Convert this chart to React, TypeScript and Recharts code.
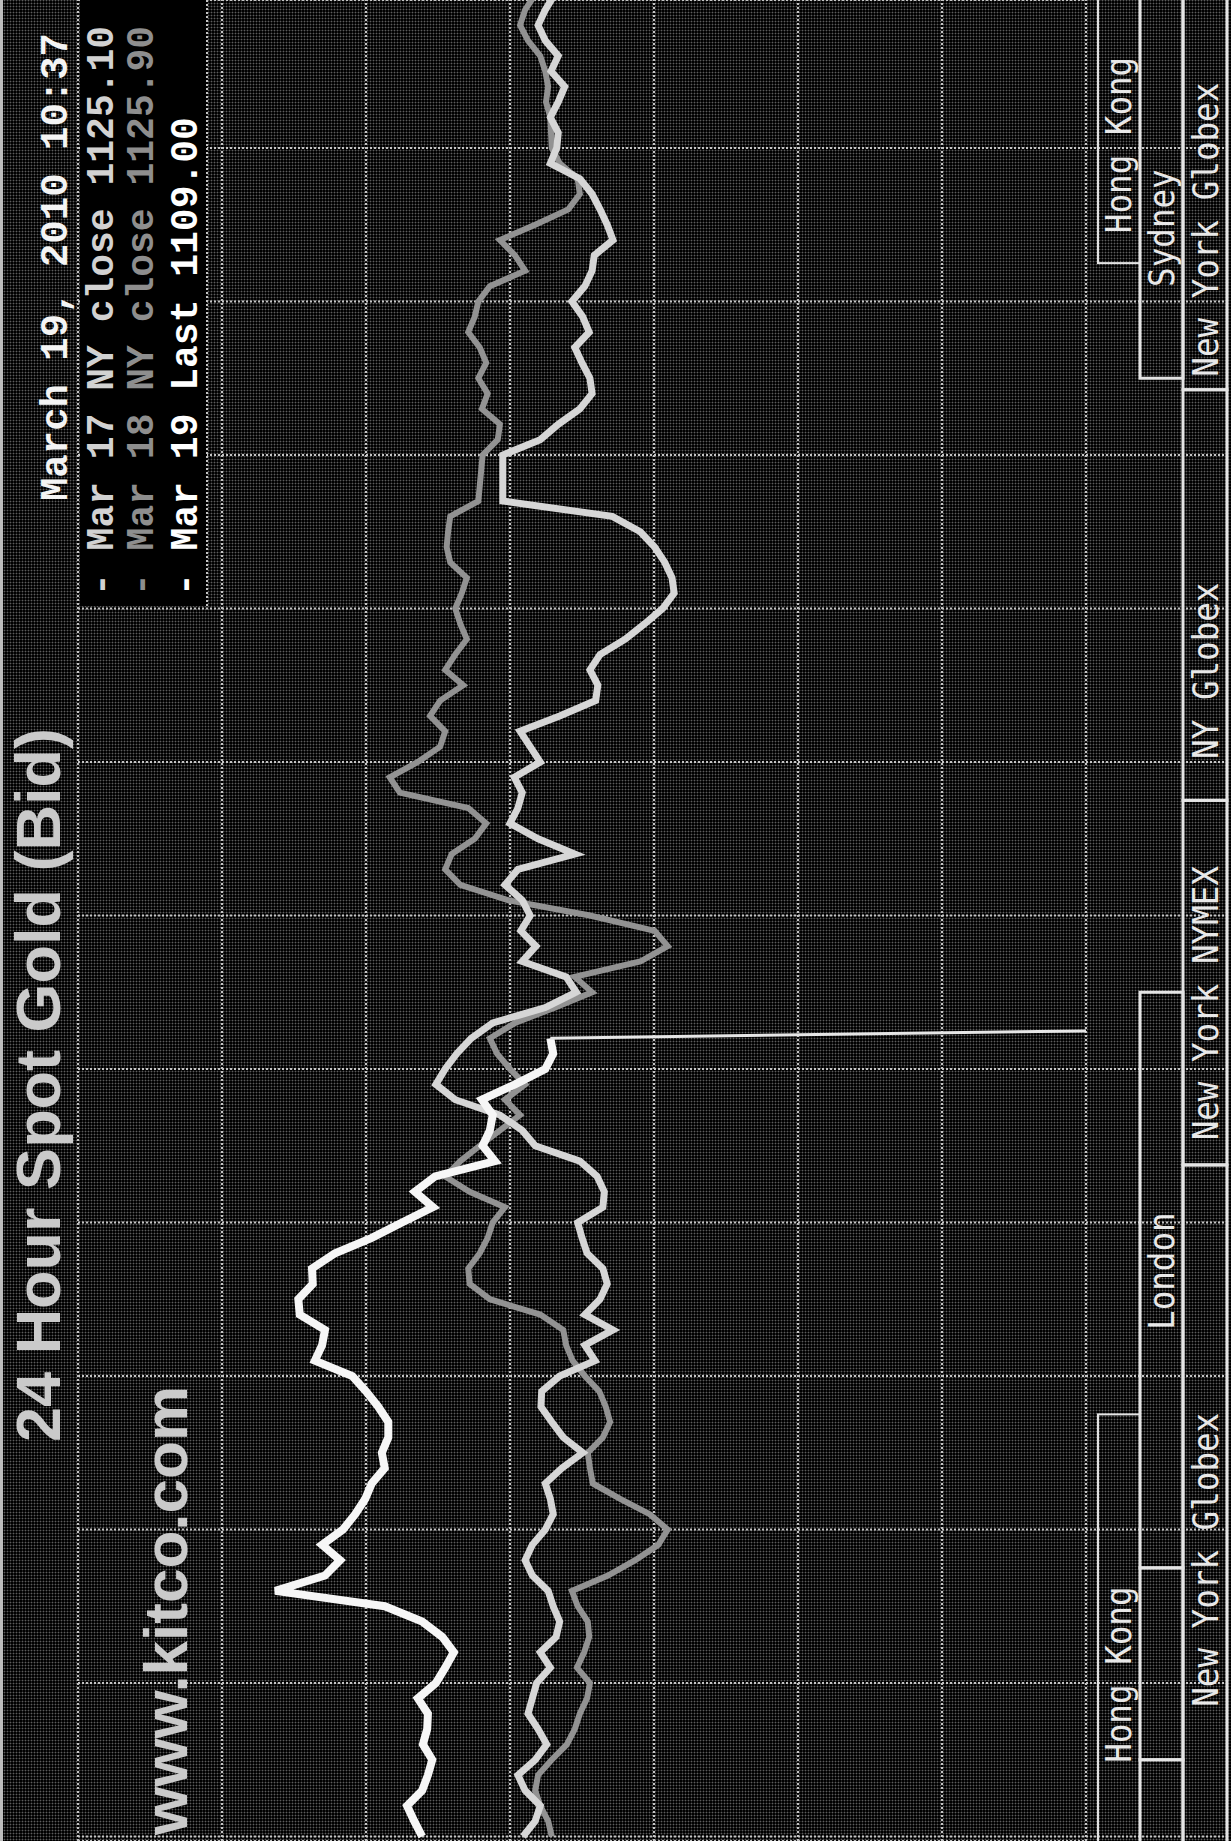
import React from 'react';
import { LineChart, Line, XAxis, YAxis, CartesianGrid } from 'recharts';

// chart is drawn landscape (as kitco publishes it) and turned a quarter turn
const W = 1841;
const H = 1231;
const PLOT_TOP = 78;
const PLOT_BOTTOM = 1086;
const X_MIN = -0.0586; // NY hours at the left edge of the picture
const X_MAX = 23.928;

// NY time in hours, sampled every 12 minutes
const hours = Array.from({ length: 121 }, (_, i) => Math.round(i * 2) / 10);
const hourTicks = [0, 2, 4, 6, 8, 10, 12, 14, 16, 18, 20, 22];
const priceTicks = [1117, 1119, 1121, 1123, 1125, 1127, 1129, 1131];

const mar17 = [
  1124.82, 1124.65, 1124.58, 1124.79, 1124.89, 1124.65, 1124.49, 1124.61, 1124.75, 1124.69,
  1124.63, 1124.44, 1124.58, 1124.36, 1124.31, 1124.4, 1124.47, 1124.69, 1124.79, 1124.69,
  1124.51, 1124.4, 1124.44, 1124.51, 1124.28, 1123.99, 1124.26, 1124.42, 1124.57, 1124.56,
  1124.31, 1123.82, 1123.96, 1123.57, 1123.96, 1123.75, 1123.65, 1123.71, 1123.93, 1124.0,
  1124.06, 1123.71, 1123.69, 1123.79, 1124.03, 1124.65, 1124.83, 1125.14, 1125.76, 1126.03,
  1125.9, 1125.74, 1125.54, 1125.24, 1124.51, 1124.08, 1124.22, 1124.83, 1124.64, 1124.85,
  1124.72, 1124.83, 1125.07, 1124.89, 1124.1, 1124.61, 1125.0, 1124.89, 1124.83, 1124.94,
  1124.58, 1124.72, 1124.86, 1124.31, 1123.81, 1123.78, 1123.89, 1123.75, 1123.4, 1123.13,
  1122.88, 1122.72, 1122.75, 1122.85, 1122.99, 1123.19, 1123.58, 1125.1, 1125.1, 1125.1,
  1125.1, 1124.58, 1124.33, 1124.03, 1123.86, 1123.89, 1124.0, 1124.1, 1123.9, 1123.99,
  1124.14, 1123.96, 1123.86, 1123.83, 1123.57, 1123.65, 1123.75, 1123.86, 1124.03, 1124.44,
  1124.35, 1124.33, 1124.44, 1124.33, 1124.24, 1124.43, 1124.33, 1124.51, 1124.61, 1124.51,
  1124.38,
];

const mar18 = [
  1124.42, 1124.47, 1124.58, 1124.65, 1124.61, 1124.42, 1124.21, 1124.1, 1124.03, 1123.93,
  1123.89, 1124.07, 1123.97, 1123.9, 1123.92, 1124.06, 1124.14, 1123.64, 1123.26, 1122.94,
  1122.81, 1123.06, 1123.47, 1123.85, 1123.89, 1123.92, 1123.71, 1123.61, 1123.67, 1123.76,
  1123.96, 1124.13, 1124.22, 1124.26, 1124.58, 1125.28, 1125.56, 1125.58, 1125.42, 1125.31,
  1125.24, 1125.07, 1125.56, 1125.9, 1125.69, 1125.42, 1125.14, 1124.86, 1125.07, 1124.79,
  1125.0, 1125.18, 1125.28, 1124.93, 1124.38, 1123.86, 1124.1, 1123.19, 1122.81, 1122.99,
  1123.89, 1125.03, 1125.69, 1125.9, 1125.81, 1125.49, 1125.33, 1125.58, 1126.53, 1126.67,
  1126.28, 1125.97, 1125.9, 1126.11, 1125.97, 1125.65, 1125.9, 1125.76, 1125.6, 1125.69,
  1125.76, 1125.67, 1125.6, 1125.83, 1125.88, 1125.86, 1125.83, 1125.44, 1125.42, 1125.4,
  1125.38, 1125.17, 1125.14, 1125.39, 1125.31, 1125.44, 1125.33, 1125.42, 1125.58, 1125.49,
  1125.44, 1125.28, 1124.79, 1124.93, 1125.14, 1124.65, 1124.19, 1124.03, 1124.06, 1124.31,
  1124.42, 1124.43, 1124.44, 1124.5, 1124.47, 1124.51, 1124.58, 1124.75, 1124.86, 1124.79,
  1124.65,
];

// current day, up to 10:24
const mar19 = [
  1126.22, 1126.33, 1126.43, 1126.22, 1126.14, 1126.08, 1126.21, 1126.15, 1126.14, 1126.28,
  1126.03, 1125.9, 1125.78, 1125.94, 1126.22, 1126.74, 1128.26, 1127.57, 1127.36, 1127.61,
  1127.32, 1127.15, 1127.01, 1126.92, 1126.74, 1126.78, 1126.69, 1126.69, 1126.83, 1127.0,
  1127.19, 1127.71, 1127.61, 1127.57, 1127.92, 1127.94, 1127.74, 1127.75, 1127.43, 1126.92,
  1126.5, 1126.07, 1126.32, 1126.04, 1125.21, 1125.38, 1125.28, 1125.24, 1125.39, 1124.93,
  1124.51, 1124.4, 1124.44,
];
const mar19Last = 1109.0; // last print, off the bottom of the scale

const legend = [
  { text: '- Mar 17 NY close 1125.10', color: '#d2d2d2' },
  { text: '- Mar 18 NY close 1125.90', color: '#8e8e8e' },
  { text: '- Mar 19 Last 1109.00', color: '#ffffff' },
];

const sessionRows = [
  [1098, 1140],
  [1140, 1183],
  [1183, 1227],
];
const sessions = [
  { label: 'Hong Kong', row: 0, from: 20.5, to: 24.3, labelAt: 20.89 },
  { label: 'Hong Kong', row: 0, from: -0.3, to: 5.5, labelAt: 0.96 },
  { label: 'Sydney', row: 1, from: 19.0, to: 24.3, labelAt: 20.19 },
  { label: 'London', row: 1, from: 3.5, to: 11.0, labelAt: 6.6 },
  { label: '', row: 1, from: 1.0, to: 3.5, labelAt: 0 },
  { label: '', row: 1, from: -0.3, to: 1.0, labelAt: 0 },
  { label: 'New York Globex', row: 2, from: 18.85, to: 24.3, labelAt: 19.02 },
  { label: 'NY Globex', row: 2, from: 13.5, to: 18.85, labelAt: 14.04 },
  { label: 'New York NYMEX', row: 2, from: 8.75, to: 13.5, labelAt: 9.07 },
  { label: 'New York Globex', row: 2, from: -0.3, to: 8.75, labelAt: 1.69 },
];

const hx = (h: number) => ((h - X_MIN) / (X_MAX - X_MIN)) * W;

const GRID = '#c4c4c4';

export default function App() {
  const rows = hours.map((h, i) => ({
    h,
    mar17: mar17[i],
    mar18: mar18[i],
    mar19: i < mar19.length ? mar19[i] : null,
    mar19Tail:
      i === mar19.length - 1 ? mar19[i] : i === mar19.length ? mar19Last : null,
  }));

  return (
    <div style={{ position: 'relative', width: H, height: W, overflow: 'hidden', background: '#000' }}>
      <style>{'body{margin:0;background:#000}'}</style>
      <div
        style={{
          position: 'absolute',
          left: 0,
          top: 0,
          width: W,
          height: H,
          transformOrigin: '0 0',
          transform: `translateY(${W}px) rotate(-90deg)`,
          backgroundColor: '#000',
          backgroundImage: 'radial-gradient(circle, #5c5c5c 0.8px, rgba(0,0,0,0) 1.1px)',
          backgroundSize: '3px 3px',
        }}
      >
        <LineChart
          width={W}
          height={H}
          data={rows}
          margin={{ top: PLOT_TOP, right: 0, bottom: H - PLOT_BOTTOM, left: 0 }}
        >
          <CartesianGrid stroke={GRID} strokeWidth={2} strokeDasharray="2 2" />
          <XAxis
            dataKey="h"
            type="number"
            domain={[X_MIN, X_MAX]}
            ticks={hourTicks}
            interval={0}
            allowDataOverflow
            hide
          />
          <YAxis
            type="number"
            domain={[1117, 1131]}
            ticks={priceTicks}
            interval={0}
            allowDataOverflow
            hide
          />
          <Line dataKey="mar18" stroke="#929292" strokeWidth={6} dot={false} isAnimationActive={false} />
          <Line dataKey="mar17" stroke="#d6d6d6" strokeWidth={7} dot={false} isAnimationActive={false} />
          <Line dataKey="mar19" stroke="#f6f6f6" strokeWidth={8} dot={false} isAnimationActive={false} />
          <Line dataKey="mar19Tail" stroke="#e6e6e6" strokeWidth={3} dot={false} isAnimationActive={false} />
        </LineChart>

        <svg
          width={W}
          height={H}
          style={{ position: 'absolute', left: 0, top: 0, pointerEvents: 'none' }}
        >
          <rect x={0} y={0} width={W} height={3} fill="#bdbdbd" />

          {/* title band */}
          <text
            x={1113}
            y={60}
            textAnchor="end"
            fontFamily="'Liberation Sans', Arial, sans-serif"
            fontWeight="bold"
            fontSize={63}
            fill="#cacaca"
          >
            24 Hour Spot Gold (Bid)
          </text>
          <text
            x={1808}
            y={67}
            textAnchor="end"
            fontFamily="'Liberation Mono', monospace"
            fontWeight="bold"
            fontSize={39}
            fill="#f4f4f4"
          >
            March 19, 2010 10:37
          </text>
          <text
            x={6}
            y={187}
            fontFamily="'Liberation Sans', Arial, sans-serif"
            fontWeight="bold"
            fontSize={62}
            fill="#cacaca"
          >
            www.kitco.com
          </text>

          {/* legend box */}
          <rect x={1235} y={80} width={620} height={127} fill="#000" />
          <line x1={1235} x2={W} y1={207} y2={207} stroke={GRID} strokeWidth={2} strokeDasharray="2 2" />
          {legend.map((l, i) => (
            <text
              key={l.text}
              x={1245}
              y={[113, 153, 197][i]}
              fontFamily="'Liberation Mono', monospace"
              fontWeight="bold"
              fontSize={38}
              fill={l.color}
            >
              {l.text}
            </text>
          ))}

          {/* session band */}
          {hourTicks.map((t) => (
            <line
              key={t}
              x1={hx(t)}
              x2={hx(t)}
              y1={PLOT_BOTTOM}
              y2={1227}
              stroke={GRID}
              strokeWidth={2}
              strokeDasharray="2 2"
            />
          ))}
          {sessions.map((s, i) => {
            const [y0, y1] = sessionRows[s.row];
            return (
              <g key={i}>
                <rect
                  x={hx(s.from)}
                  y={y0}
                  width={hx(s.to) - hx(s.from)}
                  height={y1 - y0}
                  fill="none"
                  stroke="#e4e4e4"
                  strokeWidth={s.row === 0 ? 2 : 3}
                />
                {s.label && (
                  <text
                    x={hx(s.labelAt)}
                    y={y1 - 9}
                    fontFamily="'DejaVu Sans Mono', monospace"
                    fontSize={35}
                    fill="#e8e8e8"
                    textLength={s.label.length * 19.6}
                    lengthAdjust="spacingAndGlyphs"
                  >
                    {s.label}
                  </text>
                )}
              </g>
            );
          })}
        </svg>
      </div>
    </div>
  );
}
